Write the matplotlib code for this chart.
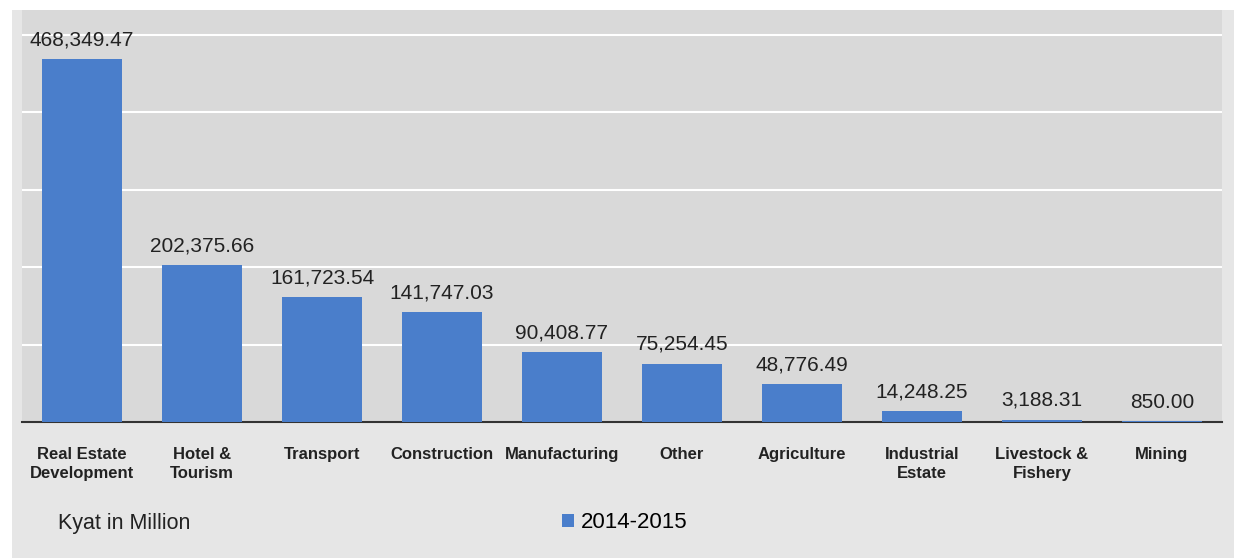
import matplotlib.pyplot as plt
from matplotlib.patches import Rectangle

# sectors and investment, 2014-2015 (Kyat in million)
sectors = ["Real Estate\nDevelopment", "Hotel &\nTourism", "Transport", "Construction",
           "Manufacturing", "Other", "Agriculture", "Industrial\nEstate",
           "Livestock &\nFishery", "Mining"]
values = [468349.47, 202375.66, 161723.54, 141747.03, 90408.77,
          75254.45, 48776.49, 14248.25, 3188.31, 850.00]
series_name = "2014-2015"

plt.rcParams['font.family'] = ['Liberation Sans', 'DejaVu Sans']

fig = plt.figure(figsize=(12.34, 5.58), dpi=100)
fig.patch.set_facecolor("white")
# light grey chart panel behind everything
fig.patches.append(Rectangle((12/1234, 0), 1 - 12/1234, 1 - 10/558,
                             transform=fig.transFigure, facecolor="#e6e6e6",
                             edgecolor="none", zorder=-5))

ax = fig.add_axes([22/1234, (558-422)/558, 1200/1234, 412/558])
ax.set_zorder(1)
ax.set_facecolor("#d9d9d9")

x = range(len(sectors))
bars = ax.bar(x, values, width=0.67, color="#4a7ecb", label=series_name, zorder=3)

for xi, v in zip(x, values):
    ax.annotate(f"{v:,.2f}", (xi, v), xytext=(0, 7), textcoords="offset points",
                ha="center", va="bottom", fontsize=15, color="#222222")

ax.set_xlim(-0.5, len(sectors) - 0.5)
ax.set_ylim(0, 532000)
ax.set_yticks([100000, 200000, 300000, 400000, 500000])
ax.yaxis.grid(True, color="white", linewidth=1.5)
ax.set_axisbelow(True)
ax.tick_params(axis="y", left=False, labelleft=False)
ax.tick_params(axis="x", length=0, pad=18)
ax.set_xticks(list(x))
ax.set_xticklabels(sectors, fontsize=12, fontweight="bold", color="#222222",
                   linespacing=1.3)
for s in ["top", "right", "left"]:
    ax.spines[s].set_visible(False)
ax.spines["bottom"].set_color("#333333")
ax.spines["bottom"].set_linewidth(1.5)

fig.text(58/1234, 1 - 523/558, "Kyat in Million", fontsize=15.5, va="center",
         color="#222222")
ax.legend(loc="center", bbox_to_anchor=(625/1234, 1 - 523/558),
          bbox_transform=fig.transFigure, frameon=False, fontsize=16,
          handlelength=0.55, handleheight=0.55, handletextpad=0.3)

fig.savefig("out.png", dpi=100, facecolor=fig.get_facecolor())
